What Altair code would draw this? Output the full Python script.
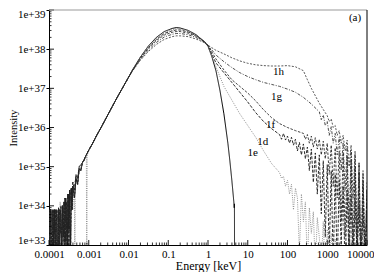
import altair as alt
import pandas as pd

# ---------------- data (log10 values) ----------------
NOISE_A_E = [-4.00, -3.98, -3.96, -3.94, -3.92, -3.90, -3.88, -3.86, -3.84, -3.82, -3.80, -3.78,
             -3.76, -3.74, -3.72, -3.70, -3.68, -3.66, -3.64, -3.62, -3.60, -3.58, -3.56, -3.54,
             -3.52, -3.50, -3.48, -3.46, -3.44, -3.42, -3.40, -3.36, -3.32, -3.28, -3.24, -3.20,
             -3.16, -3.10, -3.00]
NOISE_A_I = [33.9, 32.5, 33.9, 33.2, 32.4, 33.9, 33.0, 33.9, 32.5, 33.9, 33.4, 32.3,
             33.95, 32.6, 33.9, 33.7, 32.4, 34.0, 33.2, 34.1, 32.5, 34.2, 33.6, 32.8,
             34.3, 33.4, 34.4, 32.6, 34.45, 33.9, 34.5, 34.2, 34.7, 34.55, 34.95, 34.9,
             35.1, 35.22, 35.42]
NOISE_B_E = [-4.00, -3.98, -3.96, -3.94, -3.92, -3.90, -3.88, -3.86, -3.84, -3.82, -3.80, -3.78,
             -3.76, -3.74, -3.72, -3.70, -3.68, -3.66, -3.64, -3.62, -3.60, -3.58, -3.56, -3.54,
             -3.52, -3.50, -3.48, -3.44, -3.40, -3.36, -3.32, -3.28, -3.24, -3.20, -3.12, -3.06,
             -3.00]
NOISE_B_I = [32.6, 33.9, 32.8, 33.7, 33.9, 32.3, 33.9, 33.3, 33.9, 32.4, 33.9, 33.6,
             32.5, 33.9, 33.3, 34.0, 32.8, 34.0, 33.5, 32.6, 34.2, 33.1, 34.1, 32.7,
             34.3, 33.0, 34.4, 34.1, 34.6, 34.4, 34.8, 34.7, 35.0, 35.05, 35.15, 35.3,
             35.42]
NOISE_C_E = [-4.00, -3.98, -3.96, -3.94, -3.92, -3.90, -3.88, -3.86, -3.84, -3.82, -3.80, -3.78,
             -3.76, -3.74, -3.72, -3.70, -3.68, -3.66, -3.64, -3.62, -3.60, -3.58, -3.56, -3.52,
             -3.48, -3.44, -3.40, -3.36, -3.35, -3.34, -3.30, -3.24, -3.20, -3.16, -3.10, -3.06,
             -3.05, -3.04, -3.00]
NOISE_C_I = [33.5, 33.9, 32.4, 33.9, 32.6, 33.9, 33.6, 33.1, 32.5, 33.9, 32.7, 33.9,
             33.4, 32.4, 34.1, 33.5, 34.0, 32.6, 33.8, 32.7, 34.0, 33.3, 34.1, 34.2,
             33.5, 34.3, 33.9, 34.55, 32.0, 34.5, 34.7, 34.85, 35.0, 35.1, 35.2, 35.32,
             32.0, 35.3, 35.4]

RISE_E = [-2.9, -2.8, -2.7, -2.6, -2.5, -2.4, -2.3, -2.2, -2.1, -2.0]
RISE_I = [35.6, 35.8, 35.98, 36.17, 36.36, 36.55, 36.74, 36.92, 37.1, 37.28]

PEAK_E = [-1.9, -1.7, -1.5, -1.3, -1.1, -0.9, -0.8, -0.7, -0.5, -0.3, -0.1, 0.0]
PEAK_1c = [37.47, 37.8, 38.08, 38.3, 38.45, 38.53, 38.55, 38.54, 38.48, 38.37, 38.2, 38.08]
PEAK_1e = [37.47, 37.79, 38.06, 38.27, 38.42, 38.5, 38.52, 38.52, 38.46, 38.36, 38.2, 38.06]
PEAK_1d = [37.46, 37.78, 38.04, 38.25, 38.4, 38.47, 38.49, 38.49, 38.44, 38.35, 38.2, 38.08]
PEAK_1f = [37.46, 37.76, 38.02, 38.22, 38.36, 38.43, 38.45, 38.45, 38.41, 38.33, 38.2, 38.1]
PEAK_1g = [37.45, 37.74, 37.98, 38.17, 38.31, 38.38, 38.4, 38.4, 38.37, 38.3, 38.19, 38.1]
PEAK_1h = [37.44, 37.72, 37.94, 38.12, 38.25, 38.32, 38.34, 38.34, 38.32, 38.26, 38.17, 38.1]

HI_1c_E = [0.1, 0.2, 0.3, 0.4, 0.5, 0.55, 0.6, 0.65, 0.66, 0.665, 0.67]
HI_1c_I = [37.8, 37.45, 36.95, 36.35, 35.6, 35.15, 34.65, 34.1, 33.95, 34.05, 32.0]

HI_1e_E = [0.2, 0.4, 0.6, 0.8, 1.0, 1.2, 1.4, 1.6,
           1.80, 1.85, 1.90, 1.95, 2.00, 2.05, 2.10, 2.15, 2.20, 2.25, 2.30, 2.35, 2.40, 2.45,
           2.50, 2.55, 2.60, 2.65, 2.70, 2.75, 2.80, 2.85, 2.90, 2.95, 3.00, 3.05, 3.10, 3.15,
           3.20, 3.25, 3.30, 3.35, 3.40, 3.45]
HI_1e_I = [37.55, 37.05, 36.7, 36.35, 36.05, 35.75, 35.4, 35.08,
           34.85, 34.7, 34.75, 34.5, 34.65, 34.3, 34.55, 33.9, 34.45, 34.2, 32.8, 34.3, 33.6, 34.1,
           32.5, 33.95, 33.3, 33.85, 32.4, 33.7, 33.2, 32.5, 33.6, 32.3, 33.4, 32.6, 33.3, 32.2,
           33.15, 32.5, 33.0, 32.2, 32.9, 32.0]

HI_1d_E = [0.2, 0.4, 0.6, 0.8, 1.0, 1.2, 1.4, 1.6,
           1.80, 1.85, 1.90, 1.95, 2.00, 2.05, 2.10, 2.15, 2.20, 2.25, 2.30, 2.35, 2.40, 2.45,
           2.50, 2.55, 2.60, 2.65, 2.70, 2.75, 2.80, 2.85, 2.90, 2.95, 3.00, 3.05, 3.10, 3.15,
           3.20, 3.25, 3.30, 3.35, 3.40, 3.45, 3.50, 3.55, 3.60, 3.65, 3.70, 3.75, 3.80, 3.85,
           3.90, 3.95, 4.00]
HI_1d_I = [37.65, 37.4, 37.15, 36.9, 36.65, 36.38, 36.15, 35.97,
           35.82, 35.7, 35.85, 35.68, 35.78, 35.6, 35.75, 35.55, 35.7, 35.4, 35.62, 35.3, 35.58, 35.2,
           35.5, 34.9, 35.45, 34.6, 35.35, 34.3, 35.3, 33.8, 35.15, 33.2, 35.05, 32.8, 34.9, 32.5,
           34.8, 32.4, 34.65, 33.0, 34.5, 32.3, 34.4, 32.6, 34.25, 32.2, 34.15, 32.7, 34.05, 32.3,
           33.95, 32.5, 33.9]

HI_1f_E = [0.2, 0.4, 0.6, 0.8, 1.0, 1.2, 1.4, 1.6, 1.8, 2.0, 2.2,
           2.40, 2.45, 2.50, 2.55, 2.60, 2.65, 2.70, 2.75, 2.80, 2.85, 2.90, 2.95, 3.00, 3.05,
           3.10, 3.15, 3.20, 3.25, 3.30, 3.35, 3.40, 3.45, 3.50, 3.55, 3.60, 3.65, 3.70, 3.75,
           3.80, 3.85, 3.90, 3.95, 4.00]
HI_1f_I = [37.75, 37.47, 37.22, 37.05, 36.88, 36.68, 36.45, 36.25, 36.1, 36.0, 35.92,
           35.85, 35.7, 35.82, 35.6, 35.78, 35.5, 35.74, 35.45, 35.7, 35.3, 35.65, 35.2, 35.6, 34.8,
           35.55, 34.5, 35.48, 34.2, 35.4, 33.6, 35.35, 33.2, 35.25, 32.8, 35.15, 32.5, 35.0, 32.6,
           34.85, 32.3, 34.6, 32.5, 34.4]

HI_1g_E = [0.2, 0.4, 0.6, 0.8, 1.0, 1.2, 1.4, 1.6, 1.8, 2.0, 2.2, 2.4, 2.6,
           2.80, 2.85, 2.90, 2.95, 3.00, 3.05, 3.10, 3.15, 3.20, 3.25, 3.30, 3.35, 3.40, 3.45,
           3.50, 3.55, 3.60, 3.65, 3.70, 3.75, 3.80, 3.85, 3.90, 3.95, 4.00]
HI_1g_I = [37.85, 37.68, 37.53, 37.4, 37.3, 37.22, 37.15, 37.1, 37.05, 36.98, 36.9, 36.77, 36.6,
           36.4, 36.2, 36.32, 36.05, 36.15, 35.8, 36.02, 35.6, 35.85, 35.3, 35.75, 34.9, 35.62, 34.4,
           35.52, 33.5, 35.42, 32.8, 35.3, 32.5, 35.1, 32.4, 34.8, 32.6, 34.4]

HI_1h_E = [0.2, 0.4, 0.6, 0.8, 1.0, 1.2, 1.4, 1.6, 1.8, 2.0, 2.2, 2.4, 2.5, 2.6, 2.8,
           3.00, 3.05, 3.10, 3.15, 3.20, 3.25, 3.30, 3.35, 3.40, 3.45, 3.50, 3.55, 3.60, 3.65,
           3.70, 3.75, 3.80, 3.85, 3.90, 3.95, 4.00]
HI_1h_I = [37.97, 37.88, 37.78, 37.7, 37.64, 37.6, 37.58, 37.57, 37.57, 37.58, 37.55, 37.45, 37.22, 37.0, 36.62,
           36.3, 36.15, 36.22, 36.0, 36.05, 35.8, 35.92, 35.6, 35.8, 35.4, 35.68, 35.0, 35.55, 34.2,
           35.4, 33.2, 35.1, 32.6, 34.9, 32.5, 34.6]

NAMES = ["1c", "1d", "1e", "1f", "1g", "1h"]
COLORS = ["#000000", "#222222", "#8a8a8a", "#222222", "#222222", "#222222"]
DASHES = [[1, 0], [3, 1.5], [1, 1.2], [2.5, 1.5], [3, 1.5, 1, 1.5], [2, 1.5]]
WIDTHS = [1.0, 0.75, 0.8, 0.75, 0.75, 0.75]

LBL_TEXT = ["1h", "1g", "1f", "1d", "1e"]
LBL_E = [1.775, 1.725, 1.575, 1.375, 1.125]
LBL_I = [37.425, 36.775, 36.075, 35.625, 35.35]

X_TICKS = [1e-4, 1e-3, 1e-2, 1e-1, 1, 10, 100, 1000, 10000]
Y_TICKS = [1e33, 1e34, 1e35, 1e36, 1e37, 1e38, 1e39]

curves = {
    "1c": (NOISE_A_E + RISE_E + PEAK_E + HI_1c_E, NOISE_A_I + RISE_I + PEAK_1c + HI_1c_I),
    "1d": (NOISE_B_E + RISE_E + PEAK_E + HI_1d_E, NOISE_B_I + RISE_I + PEAK_1d + HI_1d_I),
    "1e": (NOISE_C_E + RISE_E + PEAK_E + HI_1e_E, NOISE_C_I + RISE_I + PEAK_1e + HI_1e_I),
    "1f": (NOISE_A_E + RISE_E + PEAK_E + HI_1f_E, NOISE_A_I + RISE_I + PEAK_1f + HI_1f_I),
    "1g": (NOISE_B_E + RISE_E + PEAK_E + HI_1g_E, NOISE_B_I + RISE_I + PEAK_1g + HI_1g_I),
    "1h": (NOISE_A_E + RISE_E + PEAK_E + HI_1h_E, NOISE_A_I + RISE_I + PEAK_1h + HI_1h_I),
}

rows = []
for name, (le, li) in curves.items():
    for k, (a, b) in enumerate(zip(le, li)):
        rows.append({"curve": name, "E": 10 ** a, "I": 10 ** b, "k": k})
df = pd.DataFrame(rows)

X_MINOR = [m * 10 ** p for p in range(-4, 4) for m in range(2, 10)]
Y_MINOR = [m * 10 ** p for p in range(33, 39) for m in range(2, 10)]

W, H = 318, 235
FONT = "Liberation Serif"

xs = alt.Scale(type="log", domain=[1e-4, 1e4], nice=False)
ys = alt.Scale(type="log", domain=[1e33, 1e39], nice=False)

AX_X = alt.Axis(
    values=X_TICKS, ticks=False, grid=False, title="Energy [keV]",
    labelExpr="datum.value >= 1 ? format(datum.value, 'd') : format(datum.value, '~g')",
    labelFont=FONT, labelFontSize=11, labelColor="black", labelPadding=3,
    labelAlign={"condition": {"test": "datum.value > 5000", "value": "right"}, "value": "center"},
    labelOffset={"condition": {"test": "datum.value > 5000", "value": 7}, "value": 0},
    titleFont=FONT, titleFontSize=12, titleFontWeight="normal", titleColor="black",
    titlePadding=1, domainColor="black", labelFlush=False)
AX_Y = alt.Axis(
    values=Y_TICKS, ticks=True, tickSize=3, tickColor="black", grid=False, title="Intensity",
    labelExpr="'1e+' + format(log(datum.value) / LN10, '.0f')",
    labelFont=FONT, labelFontSize=11, labelColor="black", labelPadding=1,
    labelOffset={"condition": {"test": "datum.value > 5e38", "value": 4},
                 "value": 0},
    labelBaseline={"condition": {"test": "datum.value < 2e33", "value": "bottom"}, "value": "middle"},
    titleFont=FONT, titleFontSize=10.5, titleFontWeight="normal", titleColor="black",
    titleAngle=270, titleBaseline="bottom", titleAlign="center", titleX=-31, titleY=H / 2,
    domainColor="black", labelFlush=False)


def X():
    return alt.X("E:Q", scale=xs, axis=AX_X)


def Y():
    return alt.Y("I:Q", scale=ys, axis=AX_Y)


lines = alt.Chart(df).mark_line(clip=True).encode(
    x=X(), y=Y(),
    color=alt.Color("curve:N", scale=alt.Scale(domain=NAMES, range=COLORS), legend=None),
    strokeDash=alt.StrokeDash("curve:N", scale=alt.Scale(domain=NAMES, range=DASHES), legend=None),
    strokeWidth=alt.StrokeWidth("curve:N", scale=alt.Scale(domain=NAMES, range=WIDTHS), legend=None),
    order="k:Q",
    detail="curve:N",
)

xminor = alt.Chart(pd.DataFrame({"E": X_MINOR})).mark_rule(color="black", strokeWidth=0.8).encode(
    x=X(), y=alt.value(H), y2=alt.value(H - 2.5))
xmajor = alt.Chart(pd.DataFrame({"E": X_TICKS})).mark_rule(color="black", strokeWidth=0.9).encode(
    x=X(), y=alt.value(H), y2=alt.value(H - 5))
yminor = alt.Chart(pd.DataFrame({"I": Y_MINOR})).mark_rule(color="black", strokeWidth=0.8).encode(
    y=Y(), x=alt.value(0), x2=alt.value(2.5))
ymajor = alt.Chart(pd.DataFrame({"I": Y_TICKS})).mark_rule(color="black", strokeWidth=0.9).encode(
    y=Y(), x=alt.value(0), x2=alt.value(5))

top_line = alt.Chart(pd.DataFrame({"a": [0]})).mark_rule(color="#999999", strokeWidth=1.2).encode(
    x=alt.value(0), x2=alt.value(W), y=alt.value(0))
right_line = alt.Chart(pd.DataFrame({"a": [0]})).mark_rule(color="black", strokeWidth=1).encode(
    x=alt.value(W), y=alt.value(0), y2=alt.value(H))

lbl_df = pd.DataFrame({"t": LBL_TEXT, "E": [10 ** v for v in LBL_E], "I": [10 ** v for v in LBL_I]})
labels = alt.Chart(lbl_df).mark_text(font=FONT, fontSize=11, color="black").encode(
    x=X(), y=Y(), text="t:N")

panel = alt.Chart(pd.DataFrame({"t": ["(a)"]})).mark_text(
    font=FONT, fontSize=11, color="black", align="center", baseline="middle").encode(
    x=alt.value(306), y=alt.value(8), text="t:N")

chart = alt.layer(lines, xminor, xmajor, yminor, ymajor, top_line, right_line, labels, panel).properties(
    width=W, height=H,
    autosize=alt.AutoSizeParams(type="none"),
    padding={"left": 41, "top": 2, "right": 7, "bottom": 27},
    background="white",
).configure_view(stroke=None)

chart.save("out.html", embed_options={"renderer": "svg", "actions": False})
